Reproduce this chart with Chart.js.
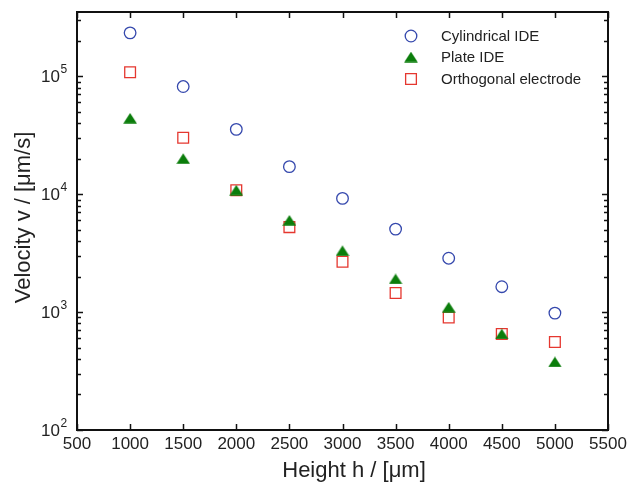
<!DOCTYPE html>
<html>
<head>
<meta charset="utf-8">
<script src="https://cdn.jsdelivr.net/npm/chart.js@4"></script>
<style>
  html, body { margin: 0; padding: 0; background: #fff; }
  canvas { display: block; }
</style>
</head>
<body>
<canvas id="chart" width="632" height="486"></canvas>
<script>
// Data
const heights = [1000, 1500, 2000, 2500, 3000, 3500, 4000, 4500, 5000];
const cylindricalIDE = [233000, 81700, 35400, 17100, 9200, 5050, 2860, 1640, 980];
const plateIDE = [44000, 20000, 10800, 6000, 3310, 1910, 1100, 652, 378];
const orthogonalElectrode = [108000, 30000, 10800, 5250, 2670, 1450, 900, 652, 558];
const seriesNames = ['Cylindrical IDE', 'Plate IDE', 'Orthogonal electrode'];
const xTicks = [500, 1000, 1500, 2000, 2500, 3000, 3500, 4000, 4500, 5000, 5500];
const yExponents = [2, 3, 4, 5];

const BLUE = '#3548ad';
const GREEN = '#0b7d0b';
const RED = '#e5372f';
const FONT = '"Liberation Sans", Arial, Helvetica, sans-serif';

// flat filled triangle used as marker
function makeTriangle() {
    const c = document.createElement('canvas');
    c.width = 14; c.height = 11;
    const g = c.getContext('2d');
    g.fillStyle = GREEN;
    g.beginPath();
    g.moveTo(7, 0.2);
    g.lineTo(13.8, 10.8);
    g.lineTo(0.2, 10.8);
    g.closePath();
    g.fill();
    return c;
}
const triangle = makeTriangle();

function toPoints(values) {
    return heights.map((h, i) => ({ x: h, y: values[i] }));
}

const datasets = [
    {
        label: seriesNames[0],
        data: toPoints(cylindricalIDE),
        pointStyle: 'circle',
        pointRadius: 5.8,
        pointBorderWidth: 1.3,
        borderColor: BLUE,
        backgroundColor: 'rgba(0,0,0,0)'
    },
    {
        label: seriesNames[1],
        data: toPoints(plateIDE),
        pointStyle: triangle,
        pointRadius: 6,
        borderColor: GREEN,
        backgroundColor: GREEN
    },
    {
        label: seriesNames[2],
        data: toPoints(orthogonalElectrode),
        pointStyle: 'rect',
        pointRadius: 7.6,
        pointBorderWidth: 1.3,
        borderColor: RED,
        backgroundColor: 'rgba(0,0,0,0)'
    }
];

// frame, inner ticks, y labels with exponents, axis titles, legend
const decorations = {
    id: 'decorations',
    afterDraw(chart) {
        const ctx = chart.ctx;
        const a = chart.chartArea;
        const xs = chart.scales.x, ys = chart.scales.y;
        ctx.save();
        ctx.strokeStyle = '#111';
        ctx.lineWidth = 2;
        ctx.strokeRect(a.left, a.top, a.right - a.left, a.bottom - a.top);

        ctx.lineWidth = 1.5;
        ctx.beginPath();
        xTicks.forEach(v => {
            const x = Math.round(xs.getPixelForValue(v)) + 0.5;
            ctx.moveTo(x, a.bottom); ctx.lineTo(x, a.bottom - 6);
            ctx.moveTo(x, a.top); ctx.lineTo(x, a.top + 6);
        });
        for (let e = 2; e <= 5; e++) {
            for (let m = 1; m <= 9; m++) {
                const v = m * Math.pow(10, e);
                if (v > ys.max) break;
                const y = Math.round(ys.getPixelForValue(v)) + 0.5;
                const len = m === 1 ? 6 : 4;
                ctx.moveTo(a.left, y); ctx.lineTo(a.left + len, y);
                ctx.moveTo(a.right, y); ctx.lineTo(a.right - len, y);
            }
        }
        ctx.stroke();

        // y tick labels 10^n
        ctx.fillStyle = '#222';
        yExponents.forEach(e => {
            const y = ys.getPixelForValue(Math.pow(10, e));
            ctx.font = '17px ' + FONT;
            ctx.textAlign = 'right';
            ctx.textBaseline = 'middle';
            ctx.fillText('10', 60, y + 1);
            ctx.font = '12px ' + FONT;
            ctx.textAlign = 'left';
            ctx.textBaseline = 'alphabetic';
            ctx.fillText(String(e), 60.5, y - 3);
        });

        // axis titles
        ctx.font = '22px ' + FONT;
        ctx.textAlign = 'center';
        ctx.textBaseline = 'alphabetic';
        ctx.fillText('Height h / [\u03bcm]', 354, 477);
        ctx.save();
        ctx.translate(29.5, 217.5);
        ctx.rotate(-Math.PI / 2);
        ctx.fillText('Velocity v / [\u03bcm/s]', 0, 0);
        ctx.restore();

        // legend
        const rows = [36, 57, 79];
        chart.data.datasets.forEach((ds, i) => {
            ctx.strokeStyle = ds.borderColor;
            ctx.fillStyle = ds.backgroundColor;
            ctx.lineWidth = ds.pointBorderWidth || 1;
            Chart.helpers.drawPoint(ctx, {
                pointStyle: ds.pointStyle,
                radius: ds.pointRadius,
                rotation: 0,
                borderWidth: ds.pointBorderWidth || 0
            }, 411, rows[i]);
            ctx.fillStyle = '#222';
            ctx.font = '15px ' + FONT;
            ctx.textAlign = 'left';
            ctx.textBaseline = 'middle';
            ctx.fillText(ds.label, 441, rows[i] + 1);
        });
        ctx.restore();
    }
};

new Chart(document.getElementById('chart'), {
    type: 'scatter',
    data: { datasets: datasets },
    options: {
        responsive: false,
        devicePixelRatio: 1,
        animation: false,
        layout: { padding: { top: 12, right: 24, left: 0, bottom: 0 } },
        plugins: { legend: { display: false }, tooltip: { enabled: false } },
        scales: {
            x: {
                type: 'linear',
                min: xTicks[0],
                max: xTicks[xTicks.length - 1],
                afterBuildTicks: s => { s.ticks = xTicks.map(v => ({ value: v })); },
                afterFit: s => { s.height = 56; },
                grid: { display: false },
                border: { display: false },
                ticks: {
                    padding: -4,
                    color: '#222',
                    font: { family: FONT, size: 17 },
                    maxRotation: 0,
                    autoSkip: false,
                    callback: v => String(v)
                }
            },
            y: {
                type: 'logarithmic',
                min: Math.pow(10, yExponents[0]),
                max: 350000,
                afterFit: s => { s.width = 77; },
                grid: { display: false },
                border: { display: false },
                ticks: { display: false }
            }
        }
    },
    plugins: [decorations]
});
</script>
</body>
</html>
